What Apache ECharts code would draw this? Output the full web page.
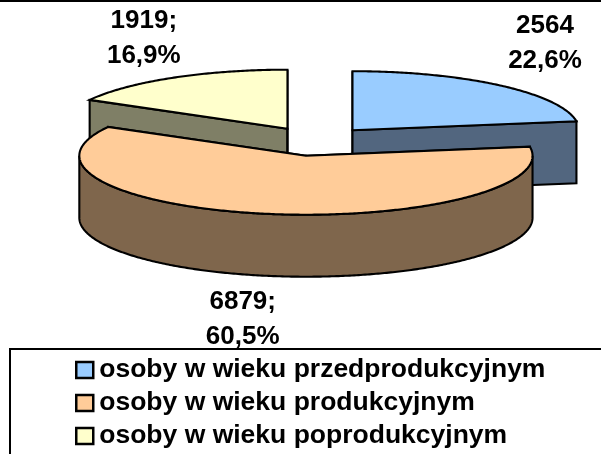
<!DOCTYPE html>
<html>
<head>
<meta charset="utf-8">
<style>html,body{margin:0;padding:0;background:#fff}#c{width:601px;height:454px}</style>
<script src="https://cdn.jsdelivr.net/npm/echarts@6/dist/echarts.min.js"></script>
</head>
<body>
<div id="c"></div>
<script>
const categories = ['osoby w wieku przedprodukcyjnym', 'osoby w wieku produkcyjnym', 'osoby w wieku poprodukcyjnym'];
const values = [2564, 6879, 1919];
const dataLabels = ['2564\n22,6%', '6879;\n60,5%', '1919;\n16,9%'];
const topColors = ['#99CCFF', '#FFCC99', '#FFFFCC'];
const wallColors = ['#52667F', '#7F664C', '#7F7F66'];

// 3D pie layout (pixels)
const centerX = 315.9, centerY = 141.3, radiusX = 226.6, radiusY = 59, depth = 62, explode = 0.248;
const labelOffsets = [[45, -42], [-23, 44], [-29, -39]];

const total = values.reduce((a, b) => a + b, 0);
const starts = values.map((_, i) => values.slice(0, i).reduce((a, b) => a + b, 0) / total * Math.PI * 2);

function slicePoint(theta, cx, cy, dy) {
  return [cx + radiusX * Math.sin(theta), cy - radiusY * Math.cos(theta) + dy];
}
function arc(a0, a1, cx, cy, dy) {
  const n = Math.max(2, Math.ceil((a1 - a0) / 0.01));
  const pts = [];
  for (let k = 0; k <= n; k++) pts.push(slicePoint(a0 + (a1 - a0) * k / n, cx, cy, dy));
  return pts;
}
function makeRender(i) {
  return function (params, api) {
    const share = api.value(0) / total * Math.PI * 2;
    const a0 = starts[i], a1 = a0 + share, mid = (a0 + a1) / 2;
    const cx = centerX + explode * radiusX * Math.sin(mid);
    const cy = centerY - explode * radiusY * Math.cos(mid);
    const stroke = { stroke: '#000', lineWidth: 2.1, lineJoin: 'miter', miterLimit: 10 };
    const wall = Object.assign({ fill: wallColors[i] }, stroke);
    const top = Object.assign({ fill: topColors[i] }, stroke);
    const children = [];
    [a0, a1].forEach(function (a) {
      const p = slicePoint(a, cx, cy, 0);
      children.push({ type: 'polygon', shape: { points: [[cx, cy], p, [p[0], p[1] + depth], [cx, cy + depth]] }, style: wall });
    });
    const w0 = Math.max(a0, Math.PI / 2), w1 = Math.min(a1, Math.PI * 1.5);
    if (w1 > w0) {
      const upper = arc(w0, w1, cx, cy, 0), lower = arc(w0, w1, cx, cy, depth).reverse();
      children.push({ type: 'polygon', shape: { points: upper.concat(lower) }, style: wall });
    }
    children.push({ type: 'polygon', shape: { points: [[cx, cy]].concat(arc(a0, a1, cx, cy, 0)) }, style: top });
    const rim = slicePoint(mid, cx, cy, Math.cos(mid) < 0 ? depth : 0);
    children.push({
      type: 'text',
      style: {
        x: rim[0] + labelOffsets[i][0], y: rim[1] + labelOffsets[i][1],
        text: dataLabels[i], align: 'center', verticalAlign: 'middle',
        font: 'bold 26px "Liberation Sans", Arial, sans-serif', lineHeight: 35, fill: '#000'
      }
    });
    return { type: 'group', children: children };
  };
}

// The slice that holds the front of the pie is painted last.
const paintZ = values.map((_, i) => (starts[i] < Math.PI && starts[i] + values[i] / total * Math.PI * 2 > Math.PI) ? 3 : 2);

const series = categories.map((name, i) => ({
  type: 'custom',
  name: name,
  coordinateSystem: 'none',
  renderItem: makeRender(i),
  data: [[values[i]]],
  itemStyle: { color: topColors[i], borderColor: '#000', borderWidth: 2 },
  z: paintZ[i],
  silent: true,
  animation: false
}));

const chart = echarts.init(document.getElementById('c'), null, { renderer: 'canvas' });
chart.setOption({
  backgroundColor: '#fff',
  animation: false,
  legend: {
    orient: 'vertical',
    left: 75,
    top: 356.5,
    height: 97,
    padding: 0,
    itemGap: 6,
    itemWidth: 17,
    itemHeight: 16,
    icon: 'path://M0 0H17V16H0Z',
    itemStyle: { color: 'inherit', borderColor: '#000', borderWidth: 2.5, borderJoin: 'miter' },
    selectedMode: false,
    textStyle: { color: '#000', fontFamily: '"Liberation Sans", Arial, sans-serif', fontWeight: 'bold', fontSize: 26.5, padding: [0, 0, 0, 1] },
    data: categories
  },
  graphic: [
    { type: 'line', z: 10, shape: { x1: 0, y1: 1, x2: 601, y2: 1 }, style: { stroke: '#000', lineWidth: 2 } },
    { type: 'polyline', z: 1, shape: { points: [[10, 454], [10, 349], [601, 349]] }, style: { stroke: '#000', fill: null, lineWidth: 2 } }
  ],
  series: series
});
</script>
</body>
</html>
